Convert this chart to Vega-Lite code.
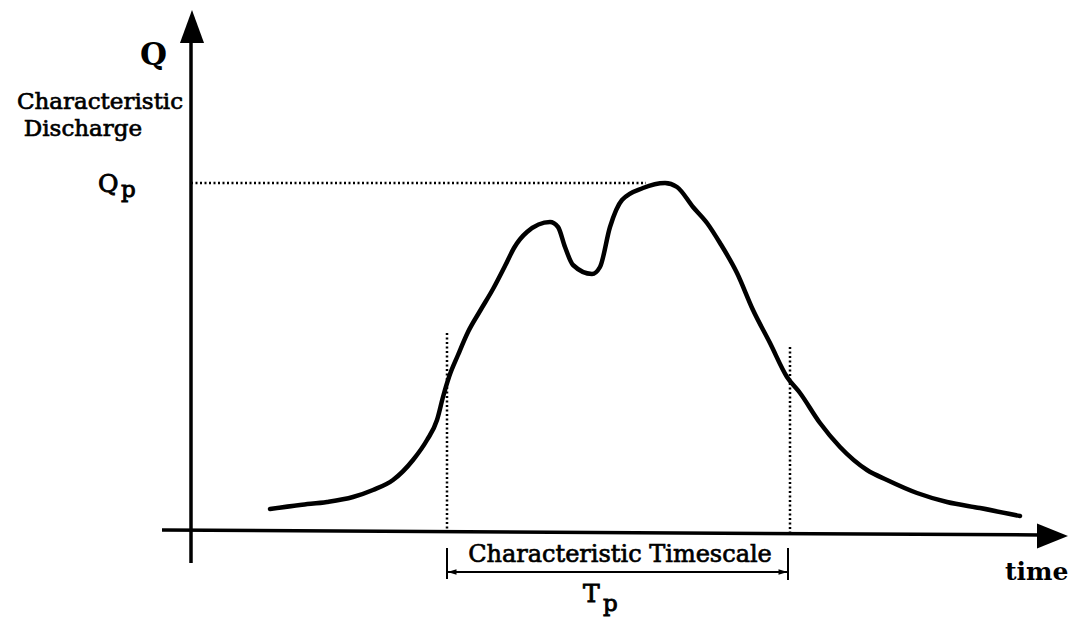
{
  "$schema": "https://vega.github.io/schema/vega-lite/v6.json",
  "width": 1070,
  "height": 631,
  "autosize": {"type": "fit", "contains": "padding"},
  "padding": 0,
  "background": "white",
  "config": {"view": {"stroke": null}},
  "datasets": {
    "curve": [
      {"t": 7.9, "q": 2.1}, {"t": 10.9, "q": 2.5}, {"t": 13.6, "q": 2.8}, {"t": 16.2, "q": 3.3},
      {"t": 18.2, "q": 4.0}, {"t": 20.2, "q": 5.0}, {"t": 22.2, "q": 7.0}, {"t": 23.6, "q": 9.0},
      {"t": 24.6, "q": 11.0}, {"t": 25.2, "q": 13.3}, {"t": 25.8, "q": 15.3}, {"t": 26.7, "q": 17.5},
      {"t": 27.7, "q": 19.8}, {"t": 28.9, "q": 21.9}, {"t": 30.2, "q": 24.1}, {"t": 31.5, "q": 26.6},
      {"t": 32.3, "q": 28.2}, {"t": 33.6, "q": 29.8}, {"t": 35.9, "q": 30.8}, {"t": 36.7, "q": 30.3},
      {"t": 37.4, "q": 28.3}, {"t": 38.2, "q": 26.5}, {"t": 40.1, "q": 25.6}, {"t": 40.9, "q": 26.3},
      {"t": 41.9, "q": 30.3}, {"t": 43.1, "q": 33.0}, {"t": 45.2, "q": 34.2}, {"t": 47.4, "q": 34.7},
      {"t": 48.6, "q": 34.3}, {"t": 50.2, "q": 32.3}, {"t": 51.6, "q": 30.7}, {"t": 52.9, "q": 28.7},
      {"t": 54.6, "q": 25.7}, {"t": 56.2, "q": 22.0}, {"t": 57.9, "q": 18.7}, {"t": 59.6, "q": 15.3},
      {"t": 60.9, "q": 13.7}, {"t": 62.9, "q": 10.7}, {"t": 64.9, "q": 8.3}, {"t": 67.6, "q": 6.0},
      {"t": 69.6, "q": 5.0}, {"t": 72.6, "q": 3.7}, {"t": 75.6, "q": 2.8}, {"t": 78.9, "q": 2.2},
      {"t": 82.9, "q": 1.4}
    ],
    "axes": [
      {"t": 0, "q": -3.3, "t2": 0, "q2": 49},
      {"t": -2.9, "q": 0, "t2": 84.9, "q2": -0.5}
    ],
    "dotted": [
      {"t": 0, "q": 34.7, "t2": 45.5, "q2": 34.7},
      {"t": 25.6, "q": 19.7, "t2": 25.6, "q2": 0},
      {"t": 59.9, "q": 18.3, "t2": 59.9, "q2": -0.2}
    ],
    "bracket": [
      {"t": 25.6, "q": -1.8, "t2": 25.6, "q2": -4.9},
      {"t": 59.7, "q": -1.8, "t2": 59.7, "q2": -5.0},
      {"t": 25.6, "q": -4.2, "t2": 59.7, "q2": -4.2}
    ],
    "arrowUp": [{"t": 0.1, "q": 50.35}],
    "arrowRight": [{"t": 86.15, "q": -0.6}],
    "smallLeft": [{"t": 26.1, "q": -4.2}],
    "smallRight": [{"t": 59.2, "q": -4.2}],
    "boldQ": [{"t": -5.1, "q": 46.5, "label": "Q"}],
    "labelsTop": [
      {"t": -9.1, "q": 42.1, "label": "Characteristic"},
      {"t": -10.8, "q": 39.4, "label": "Discharge"}
    ],
    "labelsCenter": [
      {"t": 42.9, "q": -3.2, "label": "Characteristic Timescale"}
    ],
    "mainLetters": [
      {"t": -9.3, "q": 33.8, "label": "Q"},
      {"t": 39.2, "q": -7.2, "label": "T"}
    ],
    "subs": [
      {"t": -7.0, "q": 33.3, "label": "p"},
      {"t": 41.2, "q": -8.1, "label": "p"}
    ],
    "timeLabel": [{"t": 81.4, "q": -5.0, "label": "time"}]
  },
  "encoding": {
    "x": {"field": "t", "type": "quantitative", "scale": {"domain": [-19.1, 87.9], "nice": false, "zero": false}, "axis": null},
    "y": {"field": "q", "type": "quantitative", "scale": {"domain": [-10.1, 53.0], "nice": false, "zero": false}, "axis": null}
  },
  "layer": [
    {
      "data": {"name": "axes"},
      "mark": {"type": "rule", "color": "black", "strokeWidth": 3.5},
      "encoding": {"x2": {"field": "t2"}, "y2": {"field": "q2"}}
    },
    {
      "data": {"name": "dotted"},
      "mark": {"type": "rule", "color": "black", "strokeWidth": 2.5, "strokeDash": [2, 2.5]},
      "encoding": {"x2": {"field": "t2"}, "y2": {"field": "q2"}}
    },
    {
      "data": {"name": "bracket"},
      "mark": {"type": "rule", "color": "black", "strokeWidth": 2},
      "encoding": {"x2": {"field": "t2"}, "y2": {"field": "q2"}}
    },
    {
      "data": {"name": "curve"},
      "mark": {"type": "line", "color": "black", "strokeWidth": 4.5, "interpolate": "monotone", "strokeCap": "round"},
      "encoding": {}
    },
    {
      "data": {"name": "arrowUp"},
      "mark": {"type": "point", "shape": "M0,-1L0.73,1L-0.73,1Z", "size": 1089, "filled": true, "color": "black", "opacity": 1}
    },
    {
      "data": {"name": "arrowRight"},
      "mark": {"type": "point", "shape": "M1,0L-1,-0.8L-1,0.8Z", "size": 961, "filled": true, "color": "black", "opacity": 1}
    },
    {
      "data": {"name": "smallLeft"},
      "mark": {"type": "point", "shape": "M-1,0L1,-0.6L1,0.6Z", "size": 81, "filled": true, "color": "black", "opacity": 1}
    },
    {
      "data": {"name": "smallRight"},
      "mark": {"type": "point", "shape": "M1,0L-1,-0.6L-1,0.6Z", "size": 81, "filled": true, "color": "black", "opacity": 1}
    },
    {
      "data": {"name": "boldQ"},
      "mark": {"type": "text", "font": "DejaVu Serif", "fontWeight": "bold", "fontSize": 31, "align": "left", "baseline": "alphabetic", "color": "black"},
      "encoding": {"text": {"field": "label"}}
    },
    {
      "data": {"name": "labelsTop"},
      "mark": {"type": "text", "font": "DejaVu Serif", "fontSize": 23, "align": "center", "baseline": "alphabetic", "color": "black", "stroke": "black", "strokeWidth": 0.7},
      "encoding": {"text": {"field": "label"}}
    },
    {
      "data": {"name": "labelsCenter"},
      "mark": {"type": "text", "font": "DejaVu Serif", "fontSize": 24, "align": "center", "baseline": "alphabetic", "color": "black", "stroke": "black", "strokeWidth": 0.7},
      "encoding": {"text": {"field": "label"}}
    },
    {
      "data": {"name": "mainLetters"},
      "mark": {"type": "text", "font": "DejaVu Serif", "fontSize": 25, "align": "left", "baseline": "alphabetic", "color": "black", "stroke": "black", "strokeWidth": 0.9},
      "encoding": {"text": {"field": "label"}}
    },
    {
      "data": {"name": "subs"},
      "mark": {"type": "text", "font": "DejaVu Serif", "fontSize": 23, "align": "left", "baseline": "alphabetic", "color": "black", "stroke": "black", "strokeWidth": 0.9},
      "encoding": {"text": {"field": "label"}}
    },
    {
      "data": {"name": "timeLabel"},
      "mark": {"type": "text", "font": "DejaVu Serif", "fontWeight": "bold", "fontSize": 25, "align": "left", "baseline": "alphabetic", "color": "black"},
      "encoding": {"text": {"field": "label"}}
    }
  ]
}
